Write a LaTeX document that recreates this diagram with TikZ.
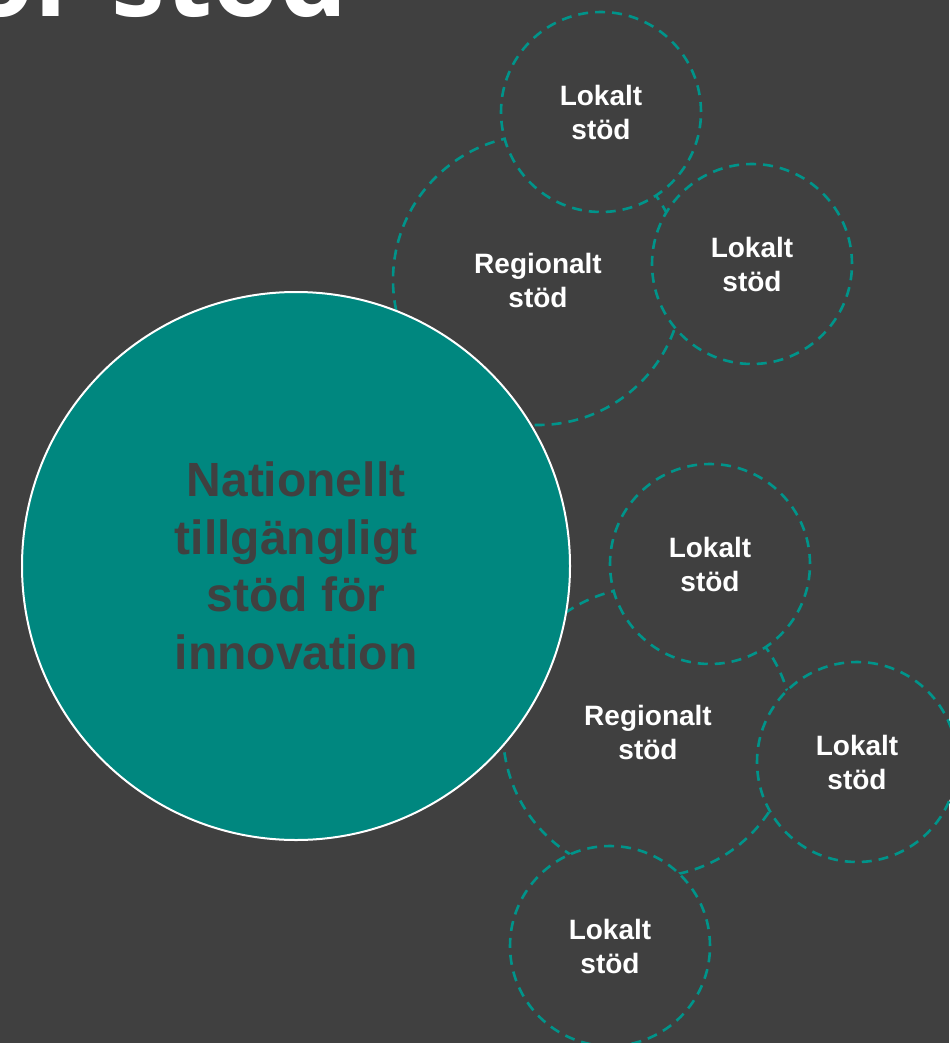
\documentclass[tikz,border=0pt]{standalone}
\usepackage{fontspec}
\setmainfont{Liberation Sans}
\newfontfamily\rubrikfont{Open Sans}
\definecolor{bakgrund}{HTML}{404040}
\definecolor{stodgron}{HTML}{00877F}
\definecolor{streckgron}{HTML}{00948A}
\begin{document}
\begin{tikzpicture}[x=0.5pt, y=-0.5pt, line join=round,
		region/.style={circle, draw=streckgron, fill=bakgrund, line width=1.3pt, dash pattern=on 5pt off 3.5pt,
			minimum size=145pt, inner sep=0pt, align=center, text=white, font=\bfseries\fontsize{14}{17}\selectfont},
		lokal/.style={region, minimum size=100pt},
		nationell/.style={circle, draw=white, fill=stodgron, line width=1pt, minimum size=274pt, inner sep=0pt,
			align=center, text=bakgrund, font=\bfseries\fontsize{24}{28.8}\selectfont}]
	\fill[bakgrund] (0,0) rectangle (949,1043);
	\useasboundingbox (0,0) rectangle (949,1043);
	% rubriken, bara nederkanten syns
	\node[anchor=base east, inner sep=0pt, text=white, font=\rubrikfont\bfseries\fontsize{54}{54}\selectfont] (rubrik) at (348,17) {ör stöd};
	% regionala cirklar under, lokala ovanpå
	\node[region] (regA) at (538,280) {Regionalt\\stöd};
	\node[region] (regB) at (648,732) {Regionalt\\stöd};
	\foreach \n/\x/\y in {a/601/112, b/752/264, c/710/564, d/857/762, e/610/946}
		\node[lokal] (lok\n) at (\x,\y) {Lokalt\\stöd};
	\node[nationell] (nat) at (296,566) {Nationellt\\tillgängligt\\stöd för\\innovation};
\end{tikzpicture}
\end{document}
